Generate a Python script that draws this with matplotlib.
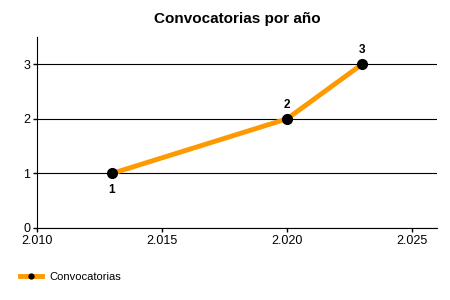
import matplotlib
matplotlib.use("Agg")
import matplotlib.pyplot as plt

plt.rcParams['font.family'] = ['Liberation Sans', 'DejaVu Sans']

years = [2013, 2020, 2023]
counts = [1, 2, 3]
label_pos = ['below', 'above', 'above']
xticks = [2010, 2015, 2020, 2025]
xtick_labels = ['2.010', '2.015', '2.020', '2.025']
yticks = [0, 1, 2, 3]

fig = plt.figure(figsize=(4.5, 3), dpi=100)
ax = fig.add_axes([37/450, 72/300, 400/450, 191/300])

ax.plot(years, counts, color='#FF9900', lw=3.5, marker='o', ms=7,
        mfc='black', mec='black', label='Convocatorias', zorder=3)
for x, y, p in zip(years, counts, label_pos):
    off = -12 if p == 'below' else 10
    ax.annotate(str(y), (x, y), xytext=(0, off), textcoords='offset points',
                ha='center', va='center', fontsize=8.5, fontweight='bold')

ax.set_xlim(2010, 2026)
ax.set_ylim(0, 3.5)
ax.set_xticks(xticks)
ax.set_xticklabels(xtick_labels)
ax.set_yticks(yticks)
ax.tick_params(labelsize=9, length=3, width=1, pad=2)
ax.yaxis.grid(True, color='black', lw=0.8)
ax.set_axisbelow(True)
for s in ['top', 'right']:
    ax.spines[s].set_visible(False)

ax.set_title('Convocatorias por año', fontsize=11, fontweight='bold', pad=10)

fig.legend(loc='lower left', bbox_to_anchor=(10/450, 8/300), frameon=False,
           fontsize=8, handlelength=2, handletextpad=0.6, markerscale=0.5)

fig.savefig('out.png', dpi=100)
